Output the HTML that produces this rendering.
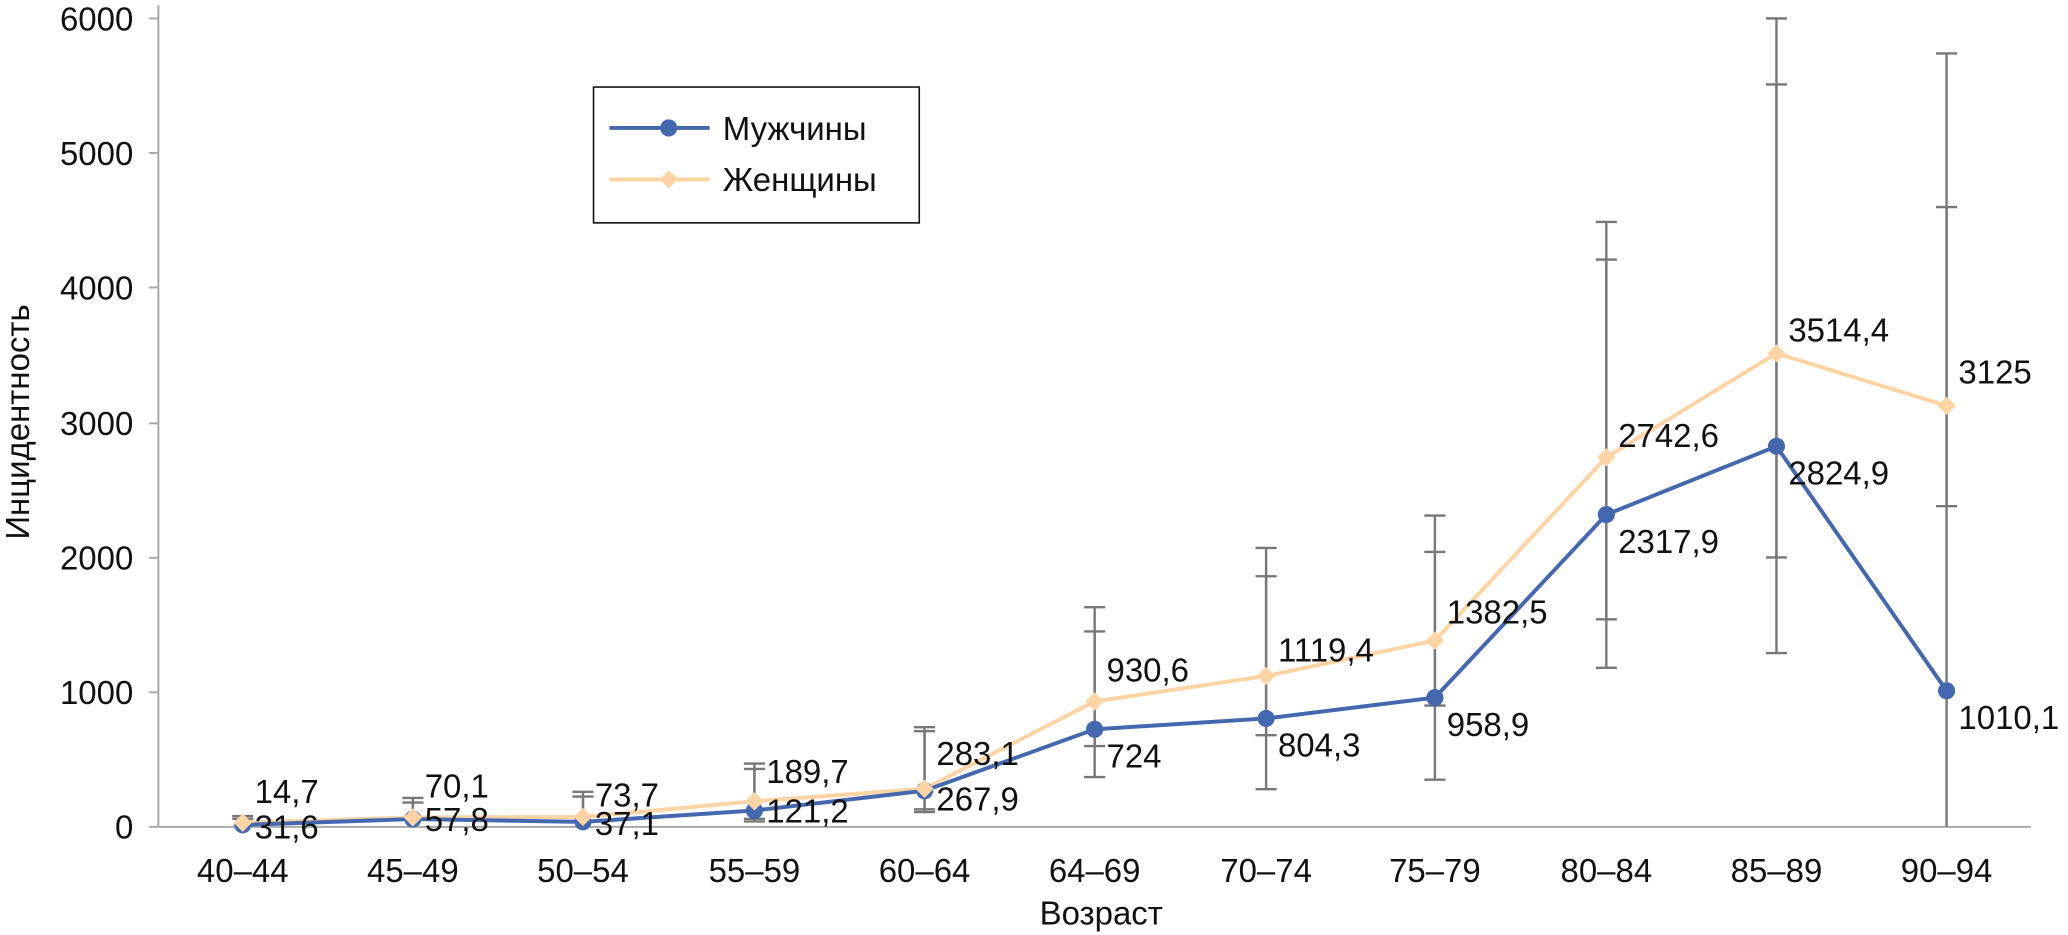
<!DOCTYPE html>
<html><head><meta charset="utf-8"><style>html,body{margin:0;padding:0;background:#fff}svg{display:block}text{font-family:"Liberation Sans",sans-serif;fill:#111}</style></head><body>
<svg width="2068" height="935" viewBox="0 0 1568 709" xmlns="http://www.w3.org/2000/svg">
<g stroke="#aaa" stroke-width="1.5">
<line x1="120" y1="4" x2="120" y2="627"/><line x1="120" y1="627" x2="1540" y2="627"/>
<line x1="113" y1="14" x2="120" y2="14"/><line x1="113" y1="116" x2="120" y2="116"/><line x1="113" y1="218" x2="120" y2="218"/><line x1="113" y1="321" x2="120" y2="321"/><line x1="113" y1="423" x2="120" y2="423"/><line x1="113" y1="525" x2="120" y2="525"/><line x1="113" y1="627" x2="120" y2="627"/>
</g>
<g font-size="25" text-anchor="end">
<text x="101" y="23">6000</text><text x="101" y="125">5000</text><text x="101" y="227">4000</text><text x="101" y="330">3000</text><text x="101" y="432">2000</text><text x="101" y="534">1000</text><text x="101" y="636">0</text>
</g>
<g font-size="25" text-anchor="middle">
<text x="184" y="669">40–44</text><text x="313" y="669">45–49</text><text x="442" y="669">50–54</text><text x="572" y="669">55–59</text><text x="701" y="669">60–64</text><text x="830" y="669">64–69</text><text x="960" y="669">70–74</text><text x="1088" y="669">75–79</text><text x="1218" y="669">80–84</text><text x="1347" y="669">85–89</text><text x="1476" y="669">90–94</text>
<text x="835" y="701">Возраст</text>
<text transform="translate(22,320) rotate(-90)">Инцидентность</text>
</g>
<g stroke="#777" stroke-width="1.8" fill="none" id="eb"></g>
<polyline fill="none" stroke="#fdd4a4" stroke-width="3" points="184,623.8 313,619.8 442,619.5 572,607.6 701,598.1 830,531.9 960,512.6 1088,485.7 1218,346.8 1347,267.9 1476,307.7"/>
<polyline fill="none" stroke="#4468b0" stroke-width="3" points="184,625.5 313,621.1 442,623.2 572,614.6 701,599.6 830,553.0 960,544.8 1088,529.0 1218,390.2 1347,338.4 1476,523.8"/>
<g id="pts"></g>
<g font-size="25" id="lbl"></g>
<rect x="450" y="66" width="247" height="103" fill="#fff" stroke="#111" stroke-width="1.2"/>
<line x1="462" y1="97" x2="538" y2="97" stroke="#4468b0" stroke-width="3"/><circle cx="507" cy="97" r="6.5" fill="#4468b0"/>
<line x1="462" y1="136" x2="538" y2="136" stroke="#fdd4a4" stroke-width="3"/><path d="M507 129 L514 136 L507 143 L500 136Z" fill="#fdd4a4"/>
<text x="548" y="106" font-size="25">Мужчины</text><text x="548" y="145" font-size="25">Женщины</text>
<script>
var X=[184,313,442,572,701,830,960,1088,1218,1347,1476];
function Y(v){return 627-v*0.10217;}
var M=[14.7,57.8,37.1,121.2,267.9,724,804.3,958.9,2317.9,2824.9,1010.1];
var F=[31.6,70.1,73.7,189.7,283.1,930.6,1119.4,1382.5,2742.6,3514.4,3125];
var ML=["14,7","57,8","37,1","121,2","267,9","724","804,3","958,9","2317,9","2824,9","1010,1"];
var FL=["31,6","70,1","73,7","189,7","283,1","930,6","1119,4","1382,5","2742,6","3514,4","3125"];
var MO=[0,9,10,9,15,29,29,29,29,29,29];
var FO=[0,-15,-8,-14,-18,-15,-11,-13,-8,-9,-17];
var E=[[[80,0],[60,0]],[[215,0],[180,0]],[[260,0],[225,0]],[[470,40],[430,60]],[[740,130],[710,110]],[[1630,600],[1450,370]],[[2070,680],[1860,280]],[[2310,900],[2040,350]],[[4490,1540],[4210,1180]],[[6000,2000],[5510,1290]],[[5740,2380],[4600,0]]];
var ns="http://www.w3.org/2000/svg",eb=document.getElementById("eb"),pts=document.getElementById("pts"),lb=document.getElementById("lbl");
function el(p,t,a){var e=document.createElementNS(ns,t);for(var k in a)e.setAttribute(k,a[k]);p.appendChild(e);return e;}
for(var i=0;i<11;i++){var x=X[i];
 E[i].forEach(function(b){var t=Y(b[0]),u=Y(b[1]);el(eb,"line",{x1:x,y1:t,x2:x,y2:u});el(eb,"line",{x1:x-8,y1:t,x2:x+8,y2:t});if(b[1]>0)el(eb,"line",{x1:x-8,y1:u,x2:x+8,y2:u});});
}
for(var i=0;i<11;i++){var x=X[i],m=Y(M[i]),f=Y(F[i]);
 el(pts,"circle",{cx:x,cy:m,r:6.5,fill:"#4468b0"});
 el(pts,"path",{d:"M"+x+" "+(f-7)+" L"+(x+7)+" "+f+" L"+x+" "+(f+7)+" L"+(x-7)+" "+f+"Z",fill:"#fdd4a4"});
 var t1=el(lb,"text",{x:x+9,y:(i==0?609:m+MO[i])});t1.textContent=ML[i];
 var t2=el(lb,"text",{x:x+9,y:(i==0?636:f+FO[i])});t2.textContent=FL[i];
}
</script>
</svg>
</body></html>
